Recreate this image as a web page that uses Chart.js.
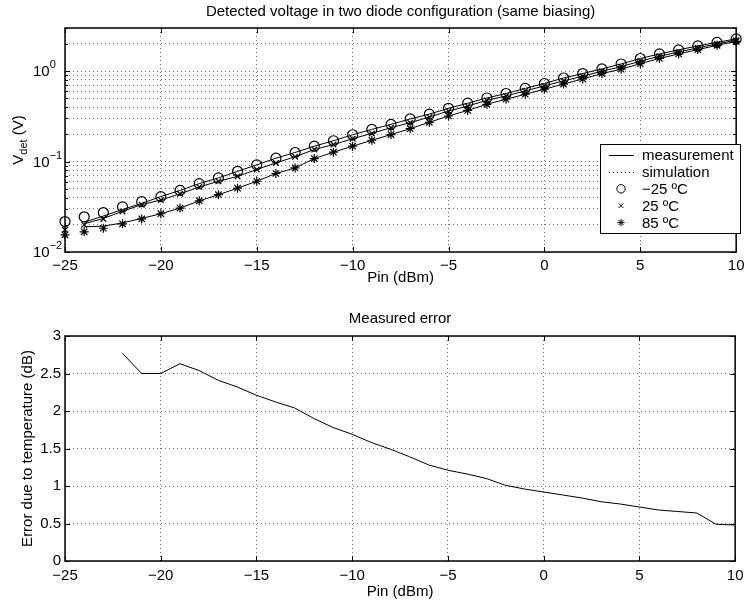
<!DOCTYPE html>
<html>
<head>
<meta charset="utf-8">
<script src="https://cdn.jsdelivr.net/npm/chart.js@4.4.1/dist/chart.umd.min.js"></script>
<style>
html, body { margin: 0; padding: 0; background: #fff; }
canvas { display: block; }
</style>
</head>
<body>
<canvas id="voltChart" width="749" height="290"></canvas>
<canvas id="errChart" width="749" height="316"></canvas>
<script>
// input power for the markers and for the measured lines
var pinMarks = [-25,-24,-23,-22,-21,-20,-19,-18,-17,-16,-15,-14,-13,-12,-11,-10,-9,-8,-7,-6,-5,-4,-3,-2,-1,0,1,2,3,4,5,6,7,8,9,10];
var vMinus25 = [0.0217,0.0245,0.0273,0.0315,0.036,0.041,0.048,0.057,0.066,0.078,0.092,0.109,0.126,0.148,0.170,0.198,0.227,0.258,0.296,0.335,0.388,0.442,0.505,0.566,0.645,0.73,0.84,0.94,1.06,1.20,1.38,1.55,1.72,1.90,2.08,2.27];
var v25 = [0.0176,0.020,0.0232,0.0281,0.0334,0.0376,0.044,0.0523,0.0606,0.0686,0.0816,0.0967,0.113,0.136,0.154,0.179,0.205,0.237,0.269,0.311,0.362,0.411,0.476,0.532,0.604,0.687,0.78,0.88,1.0,1.12,1.29,1.46,1.63,1.81,2.0,2.2];
var v85 = [0.0155,0.0167,0.0183,0.0205,0.0232,0.0265,0.0306,0.0368,0.043,0.0508,0.0606,0.0738,0.0851,0.108,0.127,0.148,0.172,0.199,0.231,0.272,0.319,0.368,0.430,0.489,0.555,0.631,0.72,0.82,0.94,1.05,1.21,1.38,1.55,1.73,1.93,2.13];

var pinLines = [-24,-23,-22,-21,-20,-19,-18,-17,-16,-15,-14,-13,-12,-11,-10,-9,-8,-7,-6,-5,-4,-3,-2,-1,0,1,2,3,4,5,6,7,8,9,10];
var measMinus25 = [0.0213,0.025,0.0295,0.0345,0.041,0.048,0.057,0.066,0.078,0.092,0.109,0.126,0.148,0.170,0.198,0.227,0.258,0.296,0.335,0.388,0.442,0.505,0.566,0.645,0.73,0.84,0.94,1.06,1.20,1.38,1.55,1.72,1.90,2.08,2.27];
var meas25 = [0.0205,0.0235,0.0282,0.0334,0.0376,0.044,0.0523,0.0606,0.0686,0.0816,0.0967,0.113,0.136,0.154,0.179,0.205,0.237,0.269,0.311,0.362,0.411,0.476,0.532,0.604,0.687,0.78,0.88,1.0,1.12,1.29,1.46,1.63,1.81,2.0,2.2];
var meas85 = [0.019,0.0193,0.021,0.0235,0.0265,0.0306,0.0368,0.043,0.0508,0.0606,0.0738,0.0851,0.108,0.127,0.148,0.172,0.199,0.231,0.272,0.319,0.368,0.430,0.489,0.555,0.631,0.72,0.82,0.94,1.05,1.21,1.38,1.55,1.73,1.93,2.13];

// measured error
var pinErr = [-22,-21,-20,-19,-18,-17,-16,-15,-14,-13,-12,-11,-10,-9,-8,-7,-6,-5,-4,-3,-2,-1,0,1,2,3,4,5,6,7,8,9,10];
var errDb = [2.77,2.50,2.50,2.63,2.54,2.41,2.32,2.21,2.12,2.04,1.90,1.78,1.69,1.58,1.49,1.39,1.28,1.21,1.16,1.10,1.01,0.96,0.92,0.88,0.84,0.79,0.76,0.72,0.68,0.66,0.64,0.49,0.48];

// axis ranges and tick labels
var pinMin = -25, pinMax = 10, pinStep = 5;
var voltMin = 0.01, voltMax = 3;
var voltDecades = [0.01, 0.1, 1];
var voltDecadeExp = ['\u22122', '\u22121', '0'];
var errMin = 0, errMax = 3, errStep = 0.5;

var legendLabels = ['measurement', 'simulation', '\u221225 \u00baC', '25 \u00baC', '85 \u00baC'];

var FONT = "'Liberation Sans', Arial, sans-serif";
Chart.defaults.font.family = FONT;
Chart.defaults.font.size = 15;
Chart.defaults.color = '#000';

function toXY(xs, ys) {
    var out = [];
    for (var i = 0; i < xs.length; i++) out.push({x: xs[i], y: ys[i]});
    return out;
}

function minusSign(v) {
    return String(v).replace('-', '\u2212');
}

// grid values for log axis: 1..9 per decade
var voltGrid = [];
voltDecades.forEach(function (d) {
    for (var m = 1; m <= 9; m++) {
        var v = +(m * d).toPrecision(3);
        if (v <= voltMax) voltGrid.push(v);
    }
});

var dotGrid = {color: 'rgba(0,0,0,0.55)', lineWidth: 1, drawTicks: false};
var dotBorder = {display: false, dash: [1, 3]};

// box around the axes plus inward tick marks (matlab style)
var axesFrame = {
    id: 'axesFrame',
    afterDatasetsDraw: function (chart) {
        var ctx = chart.ctx, a = chart.chartArea;
        var xs = chart.scales.x, ys = chart.scales.y;
        ctx.save();
        ctx.strokeStyle = '#000';
        ctx.lineWidth = 1;
        ctx.beginPath();
        xs.ticks.forEach(function (t) {
            var px = Math.round(xs.getPixelForValue(t.value)) + 0.5;
            ctx.moveTo(px, a.bottom); ctx.lineTo(px, a.bottom - 5);
            ctx.moveTo(px, a.top); ctx.lineTo(px, a.top + 5);
        });
        ys.ticks.forEach(function (t) {
            var len = 5;
            if (ys.type === 'logarithmic') {
                var lg = Math.log10(t.value);
                if (Math.abs(lg - Math.round(lg)) > 1e-6) len = 3;
            }
            var py = Math.round(ys.getPixelForValue(t.value)) + 0.5;
            ctx.moveTo(a.left, py); ctx.lineTo(a.left + len, py);
            ctx.moveTo(a.right, py); ctx.lineTo(a.right - len, py);
        });
        ctx.stroke();
        ctx.lineWidth = 1.5;
        ctx.strokeRect(a.left, a.top, a.right - a.left, a.bottom - a.top);
        ctx.restore();
    }
};

// y tick labels as powers of ten and the V_det title
var voltLabels = {
    id: 'voltLabels',
    afterDraw: function (chart) {
        var ctx = chart.ctx, ys = chart.scales.y, a = chart.chartArea;
        var big = "15px " + FONT, small = "11px " + FONT;
        ctx.save();
        ctx.fillStyle = '#000';
        ctx.textBaseline = 'middle';
        ctx.textAlign = 'left';
        voltDecades.forEach(function (d, i) {
            var py = ys.getPixelForValue(d);
            ctx.font = big;
            ctx.fillText('10', 33, py + 1);
            var w = ctx.measureText('10').width;
            ctx.font = small;
            ctx.fillText(voltDecadeExp[i], 33 + w, py - 6);
        });
        // rotated axis title with subscript
        var cy = (a.top + a.bottom) / 2;
        ctx.translate(19, cy);
        ctx.rotate(-Math.PI / 2);
        ctx.font = big; var w1 = ctx.measureText('V').width, w3 = ctx.measureText(' (V)').width;
        ctx.font = small; var w2 = ctx.measureText('det').width;
        var x0 = -(w1 + w2 + w3) / 2;
        ctx.font = big; ctx.fillText('V', x0, 0);
        ctx.font = small; ctx.fillText('det', x0 + w1, 5);
        ctx.font = big; ctx.fillText(' (V)', x0 + w1 + w2, 0);
        ctx.restore();
    }
};

// legend box inside the plot
var voltLegend = {
    id: 'voltLegend',
    afterDraw: function (chart) {
        var ctx = chart.ctx;
        var bx = 600, by = 144, bw = 140, bh = 89;
        ctx.save();
        ctx.fillStyle = '#fff';
        ctx.fillRect(bx, by, bw, bh);
        ctx.strokeStyle = '#000';
        ctx.lineWidth = 1;
        ctx.strokeRect(bx + 0.5, by + 0.5, bw, bh);
        ctx.font = "15px " + FONT;
        ctx.textBaseline = 'middle';
        ctx.textAlign = 'left';
        legendLabels.forEach(function (lab, i) {
            var ds = chart.data.datasets.find(function (d) { return d.label === lab; });
            var ry = 155 + i * 16.9;
            ctx.strokeStyle = '#000';
            ctx.lineWidth = 1;
            if (ds.pointStyle && ds.showLine === false) {
                ctx.fillStyle = ds.backgroundColor;
                Chart.helpers.drawPoint(ctx, {pointStyle: ds.pointStyle, radius: ds.pointRadius - 0.8, borderWidth: 1, rotation: 0}, 621, ry);
            } else {
                ctx.beginPath();
                ctx.setLineDash(ds.borderDash || []);
                ctx.moveTo(609, ry + 0.5); ctx.lineTo(634, ry + 0.5);
                ctx.stroke();
                ctx.setLineDash([]);
            }
            ctx.fillStyle = '#000';
            ctx.fillText(lab, 642, ry + 1);
        });
        ctx.restore();
    }
};

function lineSet(label, ys) {
    return {label: label, data: toXY(pinLines, ys), borderColor: '#000', borderWidth: 1,
            pointRadius: 0, fill: false, tension: 0};
}
function markSet(label, ys, style, r) {
    return {label: label, data: toXY(pinMarks, ys), showLine: false, borderColor: '#000',
            backgroundColor: 'rgba(0,0,0,0)', pointBorderWidth: 1.2, pointStyle: style,
            pointRadius: r, clip: false};
}

var voltConfig = {
    type: 'line',
    data: {
        datasets: [
            lineSet('measurement', measMinus25),
            lineSet('meas25', meas25),
            lineSet('meas85', meas85),
            {label: 'simulation', data: [], borderColor: '#000', borderWidth: 1, borderDash: [1, 3], pointRadius: 0},
            markSet(legendLabels[2], vMinus25, 'circle', 5),
            markSet(legendLabels[3], v25, 'crossRot', 4),
            markSet(legendLabels[4], v85, 'star', 4.5)
        ]
    },
    options: {
        responsive: false,
        animation: false,
        layout: {padding: {left: 0, right: 10, top: 0, bottom: 0}},
        plugins: {
            legend: {display: false},
            tooltip: {enabled: false},
            title: {display: true, fullSize: false, text: 'Detected voltage in two diode configuration (same biasing)',
                    font: {size: 15, weight: 'normal'}, padding: {top: 3, bottom: 7}}
        },
        scales: {
            x: {type: 'linear', min: pinMin, max: pinMax,
                ticks: {stepSize: pinStep, padding: 4.5, callback: minusSign},
                grid: dotGrid, border: dotBorder,
                title: {display: true, text: 'Pin (dBm)', padding: {top: 0, bottom: 3}},
                afterFit: function (s) { s.height = 38; }},
            y: {type: 'logarithmic', min: voltMin, max: voltMax,
                ticks: {display: false},
                afterBuildTicks: function (s) { s.ticks = voltGrid.map(function (v) { return {value: v}; }); },
                grid: dotGrid, border: dotBorder,
                afterFit: function (s) { s.width = 65; }}
        }
    },
    plugins: [axesFrame, voltLabels, voltLegend]
};

var errConfig = {
    type: 'line',
    data: {
        datasets: [{label: 'error', data: toXY(pinErr, errDb), borderColor: '#000', borderWidth: 1,
                    pointRadius: 0, fill: false, tension: 0}]
    },
    options: {
        responsive: false,
        animation: false,
        layout: {padding: {left: 0, right: 10, top: 0, bottom: 0}},
        plugins: {
            legend: {display: false},
            tooltip: {enabled: false},
            title: {display: true, fullSize: false, text: 'Measured error', font: {size: 15, weight: 'normal'},
                    padding: {top: 20, bottom: 8}}
        },
        scales: {
            x: {type: 'linear', min: pinMin, max: pinMax,
                ticks: {stepSize: pinStep, padding: 5.5, callback: minusSign},
                grid: dotGrid, border: dotBorder,
                title: {display: true, text: 'Pin (dBm)', padding: {top: 0, bottom: 5}},
                afterFit: function (s) { s.height = 45; }},
            y: {type: 'linear', min: errMin, max: errMax,
                ticks: {stepSize: errStep, padding: 4, callback: function (v) { return String(v); }},
                grid: dotGrid, border: dotBorder,
                title: {display: true, text: 'Error due to temperature (dB)', padding: {top: 19, bottom: 0}},
                afterFit: function (s) { s.width = 65; }}
        }
    },
    plugins: [axesFrame]
};

window.voltChart = new Chart(document.getElementById('voltChart').getContext('2d'), voltConfig);
window.errChart = new Chart(document.getElementById('errChart').getContext('2d'), errConfig);
</script>
</body>
</html>
